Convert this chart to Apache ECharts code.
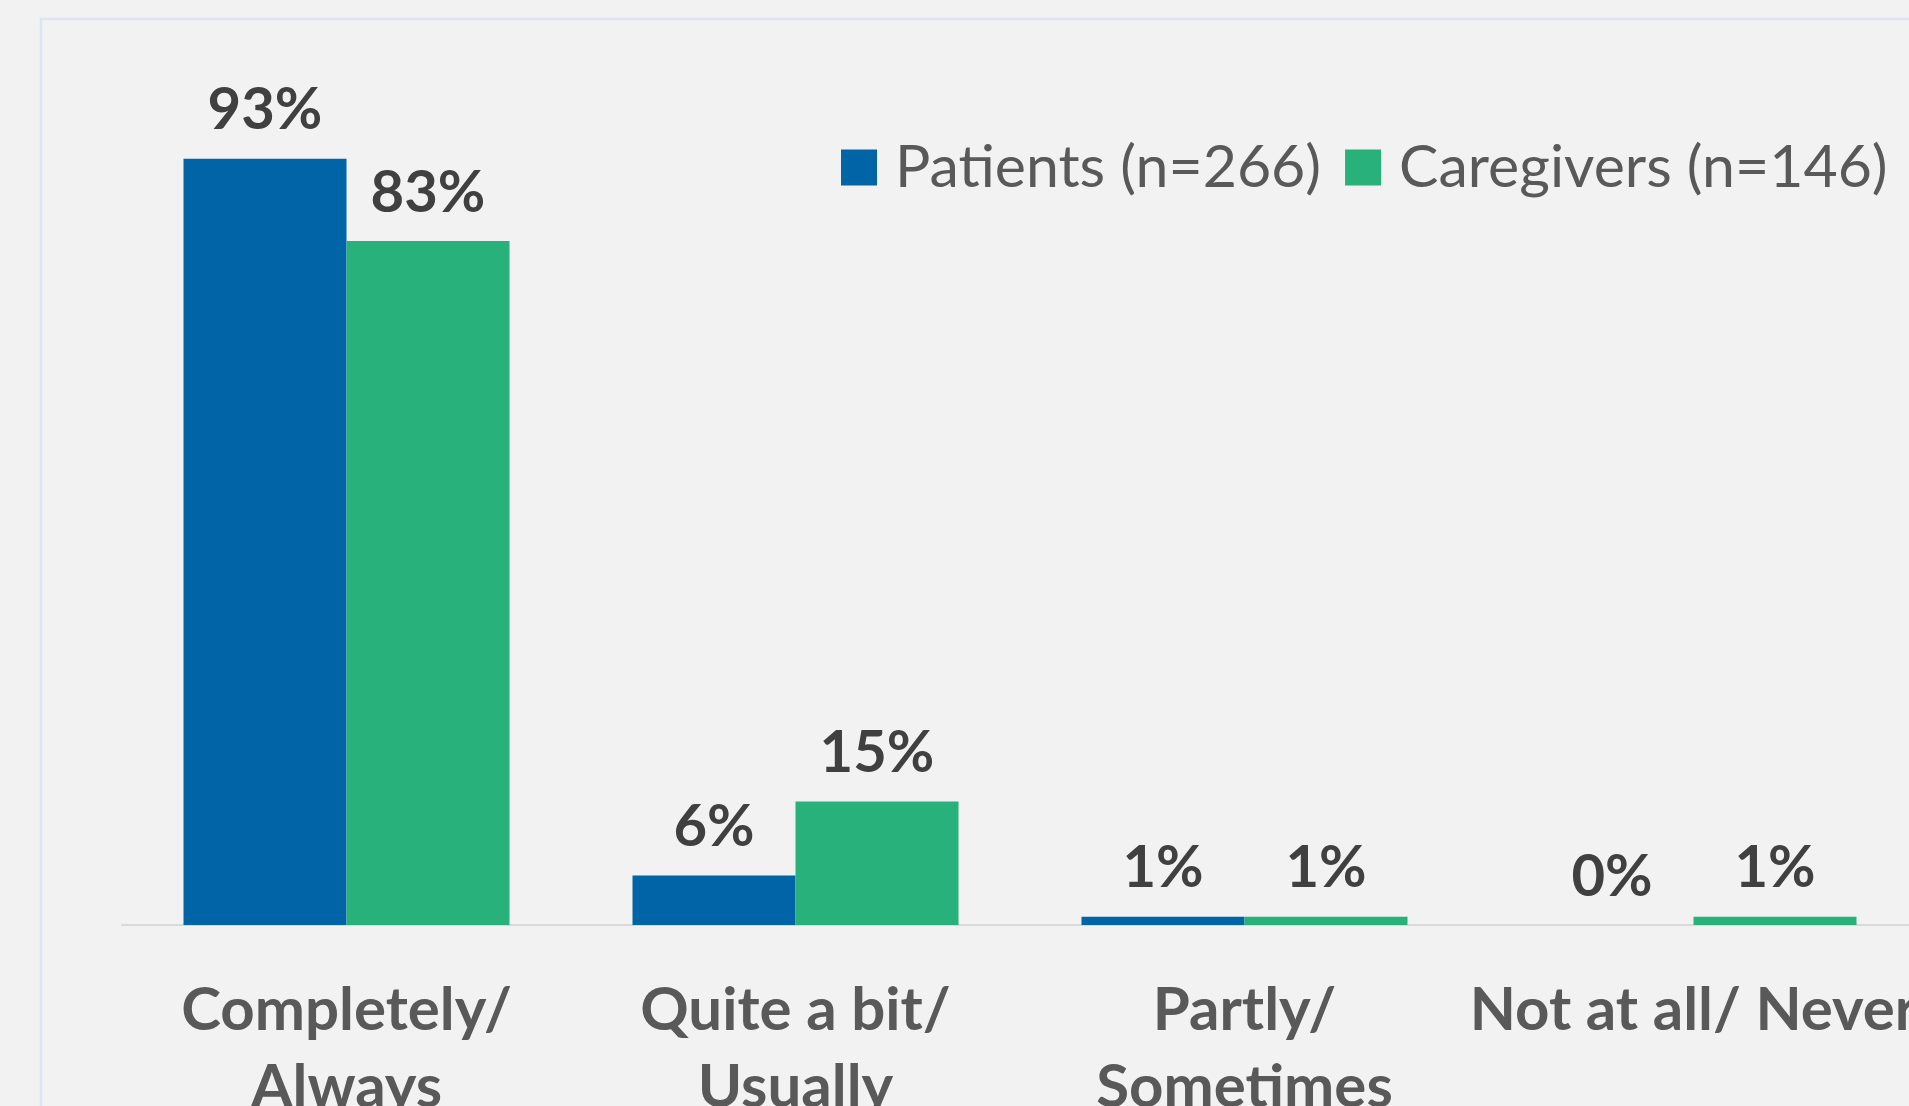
<!DOCTYPE html>
<html>
<head>
<meta charset="utf-8">
<style>
  html, body { margin: 0; padding: 0; background: #f2f2f2; overflow: hidden; }
  #chart { width: 1909px; height: 1106px; }
</style>
<script src="https://cdn.jsdelivr.net/npm/echarts@6/dist/echarts.min.js"></script>
</head>
<body>
<div id="chart"></div>
<script>
const categories = ['Completely/\nAlways', 'Quite a bit/\nUsually', 'Partly/\nSometimes', 'Not at all/ Never'];
const seriesNames = ['Patients (n=266)', 'Caregivers (n=146)'];
const patients = [93, 6, 1, 0];
const caregivers = [83, 15, 1, 1];
const colors = ['#0064a6', '#29b17c'];

const chart = echarts.init(document.getElementById('chart'), null, { renderer: 'canvas' });
const labelStyle = {
  show: true,
  position: 'top',
  distance: 19,
  formatter: '{c}%',
  fontFamily: 'Lato',
  fontWeight: 'bold',
  fontSize: 58,
  color: '#404040'
};
chart.setOption({
  backgroundColor: '#f2f2f2',
  animation: false,
  graphic: [{
    type: 'rect',
    shape: { x: 41, y: 19, width: 3000, height: 3000 },
    style: { fill: 'none', stroke: '#dce5f2', lineWidth: 2.5 },
    silent: true,
    z: -10
  }],
  legend: {
    left: 836,
    top: 133,
    itemWidth: 36,
    itemHeight: 36,
    itemGap: 24,
    icon: 'rect',
    textStyle: {
      fontFamily: 'Lato',
      fontSize: 59,
      color: '#595959',
      lineHeight: 40,
      padding: [0, 0, 0, 13]
    },
    data: seriesNames
  },
  grid: { left: 122, right: -9, top: 101, bottom: 181, containLabel: false, outerBoundsMode: 'none' },
  xAxis: {
    type: 'category',
    data: categories,
    axisLine: { show: true, lineStyle: { color: '#d9d9d9', width: 2 } },
    axisTick: { show: false },
    axisLabel: {
      interval: 0,
      margin: 47,
      fontFamily: 'Lato',
      fontWeight: 'bold',
      fontSize: 60,
      lineHeight: 77,
      color: '#595959'
    }
  },
  yAxis: {
    type: 'value',
    min: 0,
    max: 100,
    show: false,
    splitLine: { show: false }
  },
  series: [
    {
      name: seriesNames[0],
      type: 'bar',
      data: patients,
      barWidth: 163,
      barGap: '0%',
      itemStyle: { color: colors[0] },
      label: labelStyle
    },
    {
      name: seriesNames[1],
      type: 'bar',
      data: caregivers,
      barWidth: 163,
      barGap: '0%',
      itemStyle: { color: colors[1] },
      label: labelStyle
    }
  ]
});
</script>
</body>
</html>
